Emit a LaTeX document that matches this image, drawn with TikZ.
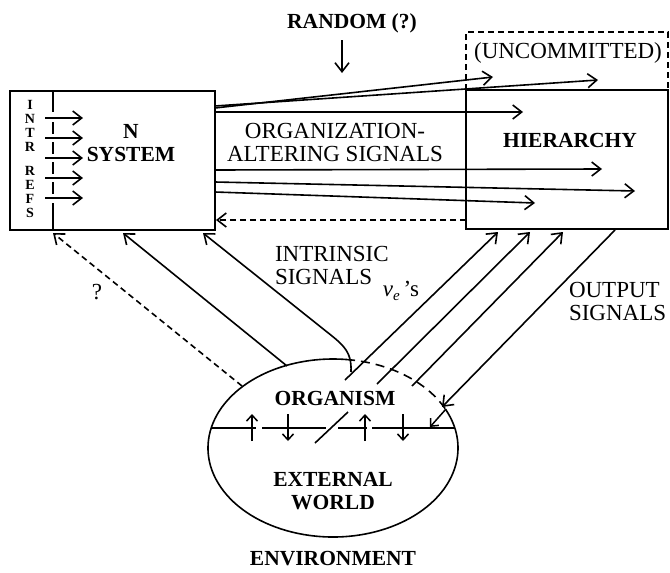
\documentclass[tikz,border=0pt]{standalone}
\usepackage{fontspec}
\setmainfont{Liberation Serif}
\usetikzlibrary{arrows.meta}
\begin{document}
\begin{tikzpicture}[x=1pt,y=-1pt,
  every node/.style={inner sep=0pt, outer sep=0pt},
  lbl/.style={font=\fontsize{23}{23}\selectfont, align=center},
  lbll/.style={font=\fontsize{23}{23}\selectfont, align=left, anchor=west},
  blbl/.style={font=\fontsize{21.5}{23}\selectfont\bfseries, align=center},
  letter/.style={font=\fontsize{14}{14}\selectfont\bfseries},
  box/.style={draw, line width=1.7pt, anchor=north west},
  ln/.style={line width=1.6pt},
  sig/.style={line width=1.6pt, -{Straight Barb[length=9pt,width=14pt,line width=1.6pt]}},
  dsig/.style={sig, dash pattern=on 6pt off 4pt},
  small/.style={line width=1.5pt, -{Straight Barb[length=6pt,width=11pt,line width=1.5pt]}}]
\useasboundingbox (0,0) rectangle (670,573);

% boxes
\node[box, minimum width=205pt, minimum height=139pt] (nsys) at (10,91) {};
\node[box, minimum width=202pt, minimum height=139pt] (hier) at (466,90) {};
\coordinate (u1) at (466,32); \coordinate (u2) at (668,32);
\draw[ln, dash pattern=on 6pt off 4pt] (hier.north west) -- (u1) -- (u2) -- (hier.north east);

% texts
\node[blbl] (random) at (352,23) {RANDOM (?)};
\node[lbl] (uncom) at (568,53) {(UNCOMMITTED)};
\node[blbl] (hiert) at (570,140) {HIERARCHY};
\node[blbl] (nsyst) at (131,143) {N\\SYSTEM};
\node[lbl] (oas) at (335,142) {ORGANIZATION-\\ALTERING SIGNALS};
\node[lbll] (intr) at (275,265) {INTRINSIC\\SIGNALS};
\node[lbll] (outs) at (569,301) {OUTPUT\\SIGNALS};
\node[font=\fontsize{23}{23}\selectfont] (ve) at (401,291) {\textit{v}\raisebox{-4pt}{\fontsize{15}{15}\selectfont\itshape e}\,'s};
\node[font=\fontsize{23}{23}\selectfont] (qm) at (97,292) {?};
\node[blbl] (org) at (335,398) {ORGANISM};
\node[blbl] (ext) at (333,491) {EXTERNAL\\WORLD};
\node[blbl] (envt) at (333,559) {ENVIRONMENT};

% INTR / REFS letters
\foreach \c/\y [count=\i] in {I/105,N/119,T/133,R/147,R/171,E/185,F/199,S/213}
  \node[letter] (let\i) at (30,\y) {\c};

% vertical line in N system
\coordinate (vt) at (53,91); \coordinate (v1) at (53,112);
\coordinate (v2) at (53,203); \coordinate (vb) at (53,230);
\draw[ln] (vt) -- (v1);
\draw[ln] (v2) -- (vb);
\foreach \k in {0,1,2,3}
  \draw[ln] (53,{122+20*\k}) coordinate (dt\k) -- (53,{134+20*\k}) coordinate (db\k);
\foreach \y [count=\i] in {118,138,158,178,198}{
  \coordinate (ia\i) at (45,\y); \coordinate (ib\i) at (83,\y);
  \draw[sig] (ia\i) -- (ib\i);}

% random arrow
\coordinate (r1) at (342,40); \coordinate (r2) at (342,73);
\draw[sig] (r1) -- (r2);

% organization-altering signals
\coordinate (a1s) at (215,108); \coordinate (a1e) at (493,77);
\coordinate (a2s) at (215,106); \coordinate (a2e) at (598,80);
\coordinate (a3s) at (215,112); \coordinate (a3e) at (523,112);
\coordinate (a4s) at (215,170); \coordinate (a4e) at (602,169);
\coordinate (a5s) at (215,182); \coordinate (a5e) at (635,191);
\coordinate (a6s) at (215,192); \coordinate (a6e) at (535,203);
\foreach \i in {1,...,6} \draw[sig] (a\i s) -- (a\i e);
\coordinate (d1s) at (466,220); \coordinate (d1e) at (216,220);
\draw[dsig] (d1s) -- (d1e);

% environment ellipse
\coordinate (ec) at (333,448);
\node[minimum width=250pt, minimum height=178pt] (env) at (ec) {};
\draw[ln] (ec) ++(-26:125 and 89) arc[start angle=-26, end angle=276, x radius=125, y radius=89];
\draw[ln, dash pattern=on 9pt off 6pt] (ec) ++(-84:125 and 89) arc[start angle=-84, end angle=-26, x radius=125, y radius=89];

% horizontal interface line
\draw[ln] (211,428) -- (256,428);
\draw[ln] (262,428) -- (326,428);
\draw[ln] (338,428) -- (367,428);
\draw[ln] (372,428) -- (455,428);
\coordinate (h1a) at (252,441); \coordinate (h1b) at (252,414);
\coordinate (h2a) at (288,414); \coordinate (h2b) at (288,441);
\coordinate (h3a) at (365,441); \coordinate (h3b) at (365,414);
\coordinate (h4a) at (403,414); \coordinate (h4b) at (403,441);
\foreach \i in {1,...,4} \draw[small] (h\i a) -- (h\i b);
\coordinate (sl1) at (315,443); \coordinate (sl2) at (348,412);
\draw[ln] (sl1) -- (sl2);
\coordinate (sm1) at (446,409); \coordinate (sm2) at (430,427);
\draw[small] (sm1) -- (sm2);

% signals to N system
\coordinate (qs) at (242,386); \coordinate (qe) at (53,233);
\draw[dsig] (qs) -- (qe);
\coordinate (s1s) at (287,366); \coordinate (s1e) at (123,233);
\draw[sig] (s1s) -- (s1e);
\coordinate (ics) at (351,372); \coordinate (icm) at (322,328); \coordinate (ice) at (203,233);
\draw[sig] (ics) .. controls (352,350) and (342,344) .. (icm) -- (ice);

% v_e's to hierarchy
\coordinate (v1s) at (345,380); \coordinate (v1e) at (498,232);
\coordinate (v2s) at (377,384); \coordinate (v2e) at (530,232);
\coordinate (v3s) at (412,386); \coordinate (v3e) at (563,232);
\foreach \i in {1,2,3} \draw[sig] (v\i s) -- (v\i e);

% output signals
\coordinate (os) at (615,230); \coordinate (oe) at (442,407);
\draw[sig] (os) -- (oe);
\end{tikzpicture}
\end{document}
